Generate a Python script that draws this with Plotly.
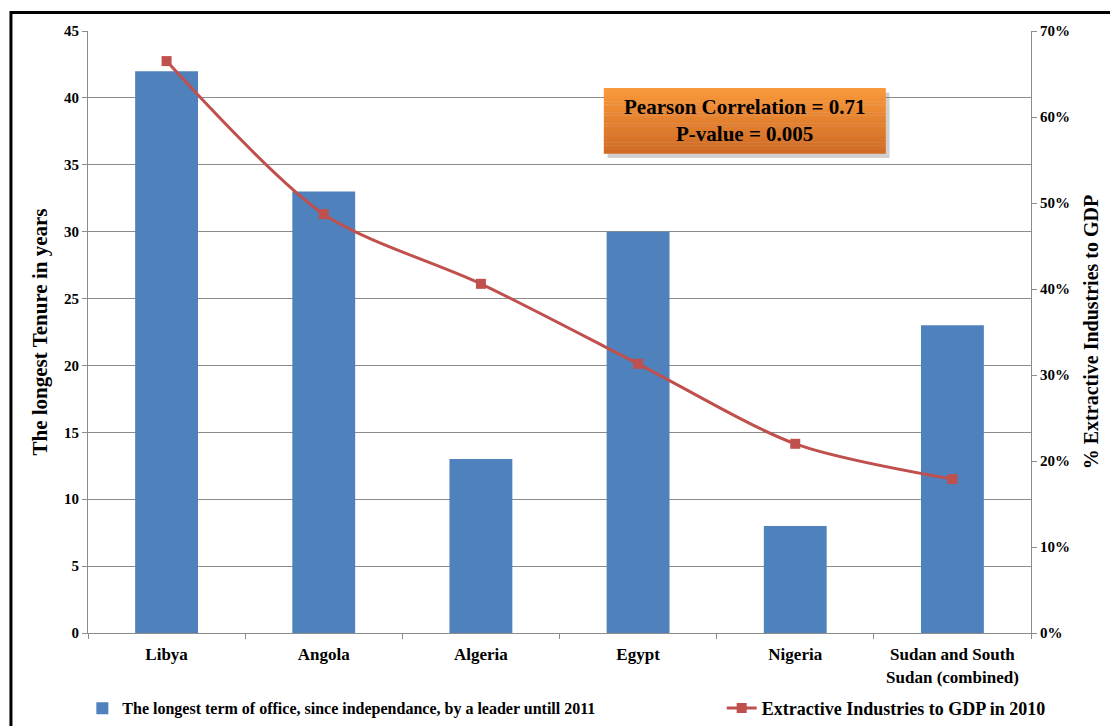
import plotly.graph_objects as go

# Data
countries = ["Libya", "Angola", "Algeria", "Egypt", "Nigeria",
             "Sudan and South<br>Sudan (combined)"]
tenure_years = [42, 33, 13, 30, 8, 23]
extractive_pct = [66.5, 48.7, 40.6, 31.3, 22.0, 17.9]

bar_name = "The longest term of office, since independance, by a leader untill 2011"
line_name = "Extractive Industries to GDP in 2010"

left_ticks = list(range(0, 50, 5))
right_ticks = list(range(0, 80, 10))
right_labels = [f"{v}%" for v in right_ticks]

FONT = "Liberation Serif, Times New Roman, serif"
GRID = "#8c8c8c"

fig = go.Figure()

fig.add_trace(go.Bar(
    x=countries, y=tenure_years, name=bar_name,
    marker=dict(color="#4F81BD", line=dict(width=0)),
    yaxis="y", legend="legend",
))

fig.add_trace(go.Scatter(
    x=countries, y=extractive_pct, name=line_name,
    mode="lines+markers",
    line=dict(color="#C0504D", width=3, shape="spline", smoothing=0.8),
    marker=dict(symbol="square", size=10, color="#C0504D"),
    yaxis="y2", legend="legend2",
))

# Orange gradient box behind the correlation text
x0, x1, y0, y1 = 0.547, 0.846, 0.796, 0.905
shapes = [
    dict(type="rect", xref="paper", yref="paper",
         x0=x0 + 0.004, x1=x1 + 0.004, y0=y0 - 0.007, y1=y1 - 0.007,
         fillcolor="rgba(120,120,120,0.35)", line=dict(width=0), layer="above"),
]
n = 24
top = (250, 152, 60)
bot = (208, 108, 36)
for i in range(n):
    t = i / (n - 1)
    c = tuple(int(top[k] + (bot[k] - top[k]) * t) for k in range(3))
    ya = y1 - (y1 - y0) * i / n
    yb = y1 - (y1 - y0) * (i + 1) / n
    shapes.append(dict(type="rect", xref="paper", yref="paper",
                       x0=x0, x1=x1, y0=yb, y1=ya + 0.0005,
                       fillcolor=f"rgb{c}", line=dict(width=0), layer="above"))

# Outer frame of the chart area
shapes.append(dict(type="rect", xref="paper", yref="paper",
                   x0=-0.0817, x1=1.2, y0=-0.3, y1=1.0307,
                   line=dict(color="black", width=3), fillcolor="rgba(0,0,0,0)",
                   layer="above"))

fig.update_layout(
    width=1110, height=726,
    margin=dict(l=88, r=79, t=31, b=93, autoexpand=False),
    paper_bgcolor="white", plot_bgcolor="white",
    font=dict(family=FONT, size=15, color="black", weight="bold"),
    bargap=0.6,
    showlegend=True,
    legend=dict(orientation="h", x=-0.006, y=-0.125, xanchor="left", yanchor="middle",
                font=dict(size=16, family=FONT, weight="bold"),
                itemwidth=30, bgcolor="rgba(0,0,0,0)"),
    legend2=dict(orientation="h", x=0.672, y=-0.125, xanchor="left", yanchor="middle",
                 font=dict(size=18, family=FONT, weight="bold"),
                 itemwidth=30, bgcolor="rgba(0,0,0,0)"),
    xaxis=dict(
        type="category", tickson="boundaries", ticks="outside", ticklen=5,
        tickcolor=GRID, showline=True, linecolor=GRID, linewidth=1,
        showgrid=False, ticklabelstandoff=6,
        tickfont=dict(size=17, family=FONT, weight="bold"),
    ),
    yaxis=dict(
        range=[0, 45], tickvals=left_ticks, ticks="outside", ticklen=5,
        tickcolor=GRID, showline=True, linecolor=GRID, linewidth=1,
        showgrid=True, gridcolor=GRID, gridwidth=1, zeroline=False,
        tickfont=dict(size=15, family=FONT, weight="bold"),
        title=dict(text="The longest Tenure in years", standoff=10,
                   font=dict(size=21, family=FONT, weight="bold")),
    ),
    yaxis2=dict(
        range=[0, 70], tickvals=right_ticks, ticktext=right_labels,
        overlaying="y", side="right", ticks="outside", ticklen=5,
        tickcolor=GRID, showline=True, linecolor=GRID, linewidth=1,
        showgrid=False, zeroline=False,
        tickfont=dict(size=15, family=FONT, weight="bold"),
        title=dict(text="% Extractive Industries to GDP", standoff=14,
                   font=dict(size=20, family=FONT, weight="bold")),
    ),
    shapes=shapes,
    annotations=[dict(
        xref="paper", yref="paper", x=(x0 + x1) / 2, y=(y0 + y1) / 2,
        xanchor="center", yanchor="middle",
        text="Pearson Correlation = 0.71<br>P-value = 0.005",
        showarrow=False, align="center",
        font=dict(size=21, family=FONT, color="black", weight="bold"),
    )],
)

fig.write_html("out.html")
